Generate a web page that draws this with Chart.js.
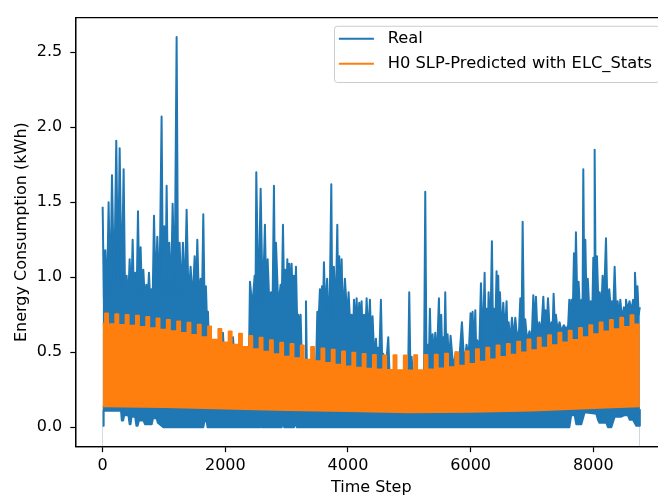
<!DOCTYPE html>
<html>
<head>
<meta charset="utf-8">
<script src="https://cdn.jsdelivr.net/npm/chart.js@4.4.0/dist/chart.umd.min.js"></script>
<style>
html, body { margin: 0; padding: 0; background: #fff; overflow: hidden; }
#wrap { width: 700px; height: 499px; }
</style>
</head>
<body>
<div id="wrap"><canvas id="chart" width="700" height="499"></canvas></div>
<script>
const xTicks = [0, 2000, 4000, 6000, 8000];
const yTicks = [0, 0.5, 1, 1.5, 2, 2.5];
const lastStep = 8759;

// Real: the upper edge of the trace, alternating between the dense band and the spikes
const realSteps = [
    0, 20, 43, 70, 97, 125, 152, 187, 222, 250, 277, 310, 342, 366, 391, 415, 440, 465, 489, 510,
    532, 554, 576, 598, 619, 641, 663, 688, 712, 734, 755, 775, 793, 815, 837, 864, 891, 926, 961, 983,
    1005, 1024, 1043, 1065, 1086, 1113, 1141, 1173, 1206, 1230, 1255, 1282, 1309, 1339, 1369, 1400, 1434, 1467, 1500, 1521,
    1543, 1570, 1597, 1619, 1641, 1662, 1684, 1700, 1717, 1740,
    1940, 1961, 1985, 2105, 2125, 2150, 2385,
    2402, 2440, 2478, 2492, 2505, 2540, 2576, 2610, 2646, 2668, 2690, 2720, 2745, 2770, 2793, 2810, 2826, 2864, 2902, 2920,
    2940, 2960, 2975, 2993, 3011, 3027, 3043, 3062, 3081, 3100, 3119, 3135, 3152, 3172, 3190, 3210, 3228, 3250,
    3300, 3315, 3330, 3480, 3500, 3520, 3543, 3560, 3576, 3592, 3608, 3630, 3660, 3695, 3728, 3745, 3770, 3800, 3826, 3842,
    3858, 3877, 3897, 3915, 3950, 3990, 4010, 4040, 4060, 4080, 4098, 4120, 4141, 4160, 4184, 4204, 4222, 4240, 4262, 4282,
    4304, 4330, 4358, 4380, 4401, 4430, 4456, 4475, 4489, 4510, 4537, 4560, 4575, 4620, 4657, 4680,
    4980, 4999, 5020, 5037, 5060, 5240, 5260, 5280, 5298, 5318, 5336, 5358, 5380, 5400, 5423, 5450, 5483, 5500, 5521, 5538,
    5554, 5570, 5586, 5605, 5624, 5648, 5673, 5715, 5760, 5810, 5858, 5895, 5934, 5965, 5999, 6015, 6032, 6055, 6076, 6092,
    6108, 6140, 6168, 6200, 6228, 6245, 6260, 6277, 6293, 6320, 6347, 6365, 6380, 6400, 6423, 6436, 6450, 6465, 6478, 6505,
    6532, 6560, 6586,
    6605, 6620, 6645, 6674, 6700, 6728, 6760, 6790, 6810, 6830, 6848, 6870, 6890, 6920, 6960, 6995, 7022, 7043, 7065, 7090,
    7120, 7150, 7185, 7205, 7220, 7240, 7261, 7290, 7320, 7336, 7353, 7375, 7390, 7420, 7450, 7480, 7520, 7560, 7590, 7609,
    7628, 7647, 7665, 7685, 7700, 7717, 7740, 7760, 7780, 7810, 7825, 7837, 7855, 7870, 7890, 7910, 7935, 7960, 7985, 8000,
    8012, 8022, 8040, 8060, 8085, 8105, 8130, 8152, 8172, 8207, 8230, 8260, 8290, 8305, 8325, 8348, 8372, 8397, 8420, 8440,
    8470, 8500, 8520, 8533, 8560, 8590, 8620, 8650, 8665, 8679, 8700, 8720, 8740, 8759
];
const realValues = [
    1.47, 0.86, 1.18, 0.85, 1.50, 0.86, 1.68, 0.88, 1.91, 0.95, 1.86, 0.90, 1.72, 0.85, 1.01, 0.82, 1.12, 0.84, 1.25, 0.85,
    1.03, 0.86, 1.44, 0.86, 1.20, 0.86, 1.05, 0.84, 0.95, 0.84, 1.03, 0.84, 0.92, 0.84, 1.41, 0.90, 1.27, 0.88, 2.07, 0.90,
    1.34, 0.90, 1.61, 0.88, 1.23, 0.87, 1.49, 0.88, 2.60, 0.88, 1.23, 0.86, 1.23, 0.86, 1.45, 0.85, 1.07, 0.84, 1.14, 0.85,
    1.25, 0.84, 0.99, 0.82, 1.42, 0.80, 0.94, 0.72, 0.77, 0.45,
    0.45, 0.63, 0.45, 0.45, 0.60, 0.45, 0.45,
    0.97, 0.80, 1.01, 0.82, 1.70, 0.80, 1.59, 0.80, 1.35, 0.82, 1.12, 0.80, 0.90, 0.80, 1.61, 0.85, 1.23, 0.80, 0.95, 0.82,
    1.35, 0.82, 1.05, 0.82, 1.12, 0.85, 1.09, 0.85, 1.09, 0.82, 1.01, 0.82, 1.07, 0.70, 0.75, 0.65, 0.75, 0.40,
    0.40, 0.84, 0.40, 0.40, 0.77, 0.70, 0.92, 0.75, 0.94, 0.75, 1.10, 0.75, 0.99, 0.60, 1.62, 0.72, 1.07, 0.75, 1.35, 0.78,
    1.14, 0.78, 1.12, 0.72, 0.99, 0.72, 0.90, 0.65, 0.75, 0.55, 0.85, 0.65, 0.86, 0.65, 0.83, 0.65, 0.84, 0.60, 0.75, 0.60,
    0.86, 0.60, 0.85, 0.55, 0.74, 0.45, 0.59, 0.45, 0.53, 0.45, 0.85, 0.40, 0.49, 0.40, 0.60, 0.33,
    0.33, 0.90, 0.33, 0.47, 0.33, 0.35, 1.57, 0.42, 0.55, 0.42, 0.79, 0.42, 0.62, 0.45, 0.63, 0.45, 0.86, 0.50, 0.75, 0.45,
    0.60, 0.45, 0.90, 0.45, 0.62, 0.42, 0.61, 0.40, 0.50, 0.42, 0.70, 0.42, 0.55, 0.45, 0.76, 0.50, 0.77, 0.50, 0.78, 0.48,
    0.58, 0.50, 0.96, 0.55, 1.03, 0.58, 0.79, 0.58, 0.90, 0.60, 1.24, 0.62, 0.79, 0.62, 1.04, 0.70, 1.01, 0.65, 0.90, 0.62,
    0.83, 0.62, 0.84,
    0.56, 0.70, 0.56, 0.73, 0.58, 0.73, 0.58, 0.65, 0.86, 0.62, 1.37, 0.62, 0.72, 0.58, 0.64, 0.58, 0.88, 0.66, 0.87, 0.62,
    0.70, 0.62, 0.87, 0.68, 0.78, 0.66, 0.86, 0.64, 0.70, 0.64, 0.89, 0.66, 0.75, 0.64, 0.70, 0.64, 0.68, 0.65, 0.68, 0.85,
    0.75, 0.85, 0.75, 1.16, 0.82, 1.30, 0.80, 0.97, 0.80, 0.85, 0.78, 1.72, 0.82, 1.25, 0.82, 0.99, 0.78, 0.84, 0.78, 1.13,
    0.85, 1.85, 0.85, 1.14, 0.80, 0.90, 0.76, 1.01, 0.80, 1.26, 0.80, 0.92, 0.76, 0.84, 0.76, 1.07, 0.76, 0.84, 0.72, 0.85,
    0.72, 0.80, 0.74, 0.85, 0.78, 0.84, 0.78, 0.85, 0.80, 1.03, 0.86, 0.94, 0.75, 0.80
];

// Real: the lower edge of the trace
const realLowSteps = [
    0, 10, 16, 300, 312, 335, 350, 420, 440, 455, 470, 530, 550, 570, 590, 665, 690, 800, 820, 880,
    900, 990, 1640, 1660, 1695, 1710, 2550, 2565, 2590, 2920, 2935, 2960, 3120, 3140, 3165, 7610, 7640, 7696, 7723, 7805,
    7859, 8049, 8076, 8100, 8212, 8239, 8294, 8348, 8457, 8511, 8565, 8593, 8647, 8701, 8756, 8759
];
const realLowValues = [
    0.01, 0.01, 0.11, 0.11, 0.045, 0.045, 0.08, 0.08, 0.02, 0.02, 0.07, 0.07, 0.01, 0.01, 0.045, 0.045, 0.02, 0.02, 0.06, 0.06,
    0.03, 0.0, 0.0, 0.04, 0.04, 0.0, 0.0, 0.04, 0.0, 0.0, 0.04, 0.0, 0.0, 0.04, 0.0, 0.0, 0.08, 0.08, 0.02, 0.02,
    0.10, 0.09, 0.05, 0.03, 0.03, 0.0, 0.0, 0.07, 0.07, 0.08, 0.08, 0.05, 0.05, 0.01, 0.01, 0.12
];

// H0 SLP prediction: daily peak on weekdays (53 stretches) and on weekends (52 weekends)
const weekdayPeak = [
    0.690, 0.686, 0.681, 0.676, 0.668, 0.660, 0.650, 0.640, 0.628, 0.615,
    0.600, 0.583, 0.565, 0.550, 0.535, 0.520, 0.503, 0.486, 0.470, 0.460,
    0.450, 0.440, 0.428, 0.416, 0.405, 0.397, 0.390, 0.385, 0.382, 0.379,
    0.378, 0.380, 0.385, 0.391, 0.400, 0.410, 0.422, 0.436, 0.452, 0.468,
    0.483, 0.498, 0.513, 0.530, 0.547, 0.564, 0.582, 0.600, 0.619, 0.637,
    0.653, 0.668, 0.685
];
const weekendPeak = [
    0.758, 0.753, 0.748, 0.742, 0.734, 0.725, 0.715, 0.704, 0.696, 0.682,
    0.671, 0.654, 0.637, 0.622, 0.607, 0.596, 0.579, 0.563, 0.555, 0.545,
    0.535, 0.524, 0.517, 0.505, 0.496, 0.488, 0.482, 0.478, 0.480, 0.478,
    0.479, 0.482, 0.483, 0.490, 0.500, 0.506, 0.519, 0.529, 0.545, 0.555,
    0.570, 0.585, 0.596, 0.613, 0.630, 0.643, 0.661, 0.679, 0.698, 0.715,
    0.730, 0.746
];
const firstWeekend = 39;
const hoursPerWeek = 168;
const weekendHours = 48;

// H0 SLP prediction: night-time minimum
const predLowSteps = [0, 1000, 2000, 3000, 4000, 5000, 6000, 7000, 8000, 8759];
const predLowValues = [0.14, 0.135, 0.125, 0.115, 0.108, 0.100, 0.103, 0.112, 0.128, 0.14];

const blue = "#1f77b4";
const orange = "#ff7f0e";
const fontFamily = "'DejaVu Sans', sans-serif";

const toPoints = (xs, ys) => xs.map((x, i) => ({ x: x, y: ys[i] }));

const predTop = [{ x: 0, y: weekdayPeak[0] }];
weekendPeak.forEach((v, k) => {
    const s = firstWeekend + k * hoursPerWeek;
    predTop.push({ x: s, y: weekdayPeak[k] });
    predTop.push({ x: s, y: v });
    predTop.push({ x: s + weekendHours, y: v });
    predTop.push({ x: s + weekendHours, y: weekdayPeak[k + 1] });
});
predTop.push({ x: lastStep, y: weekdayPeak[weekdayPeak.length - 1] });

const allY = realValues.concat(realLowValues);
const yLo = Math.min(...allY);
const yHi = Math.max(...allY);
const yPad = (yHi - yLo) * 0.05;
const xPad = lastStep * 0.05;
const yAxisMin = yLo - yPad;

// every edge is filled down to the bottom of the axis; later layers cover earlier ones
const lineStyle = { pointRadius: 0, borderWidth: 2, tension: 0, borderJoinStyle: "round", fill: { value: yAxisMin } };

const legendItems = [
    { text: "Real", color: blue },
    { text: "H0 SLP-Predicted with ELC_Stats", color: orange }
];

const framePlugin = {
    id: "frame",
    afterDraw(chart) {
        const ctx = chart.ctx;
        const a = chart.chartArea;
        ctx.save();
        // spines (the fills reach the bottom edge, so redraw them on top)
        ctx.strokeStyle = "#000";
        ctx.lineWidth = 1.2;
        ctx.beginPath();
        ctx.moveTo(a.right, a.top);
        ctx.lineTo(a.left, a.top);
        ctx.lineTo(a.left, a.bottom);
        ctx.lineTo(a.right, a.bottom);
        ctx.stroke();

        // legend box, upper right
        const fs = 16.3;
        ctx.font = fs + "px " + fontFamily;
        const textW = Math.max(...legendItems.map(it => ctx.measureText(it.text).width));
        const w = 3.3 * fs + textW + 0.4 * fs;
        const h = 3.45 * fs;
        const right = a.right - 0.5 * fs;
        const top = a.top + 0.5 * fs;
        const left = right - w;
        ctx.beginPath();
        ctx.roundRect(left + 0.5, top + 0.5, w, h, 3);
        ctx.fillStyle = "rgba(255,255,255,0.8)";
        ctx.fill();
        ctx.strokeStyle = "#cccccc";
        ctx.lineWidth = 1;
        ctx.stroke();

        ctx.textBaseline = "middle";
        ctx.textAlign = "left";
        legendItems.forEach((it, i) => {
            const cy = top + 0.8 * fs + i * 1.53 * fs;
            ctx.strokeStyle = it.color;
            ctx.lineWidth = 2;
            ctx.beginPath();
            ctx.moveTo(left + 0.3 * fs, cy);
            ctx.lineTo(left + 2.45 * fs, cy);
            ctx.stroke();
            ctx.fillStyle = "#000";
            ctx.fillText(it.text, left + 3.3 * fs, cy);
        });
        ctx.restore();
    }
};

Chart.defaults.font.family = fontFamily;
Chart.defaults.font.size = 16;
Chart.defaults.color = "#000";

// drawn back to front: real top, prediction top, band below the prediction, white under the real minimum
new Chart(document.getElementById("chart"), {
    type: "line",
    data: {
        datasets: [
            { label: "Real", data: toPoints(realSteps, realValues), borderColor: blue, backgroundColor: blue, order: 3, ...lineStyle },
            { label: "H0 SLP-Predicted with ELC_Stats", data: predTop, borderColor: orange, backgroundColor: orange, order: 2, ...lineStyle },
            { label: "predLow", data: toPoints(predLowSteps, predLowValues), borderColor: orange, backgroundColor: blue, order: 1, ...lineStyle },
            { label: "realLow", data: toPoints(realLowSteps, realLowValues), borderColor: blue, backgroundColor: "#ffffff", order: 0, ...lineStyle }
        ]
    },
    options: {
        responsive: false,
        animation: false,
        devicePixelRatio: 1,
        layout: { padding: { left: 0, top: 6, right: 33.3, bottom: 0 } },
        plugins: { legend: { display: false }, tooltip: { enabled: false } },
        scales: {
            x: {
                type: "linear",
                min: -xPad,
                max: lastStep + xPad,
                afterBuildTicks: s => { s.ticks = xTicks.map(v => ({ value: v })); },
                afterFit: s => { s.height = 52.3; },
                ticks: { callback: v => String(v), maxRotation: 0, autoSkip: false, padding: 4, color: "#000" },
                grid: { drawOnChartArea: false, tickLength: 5.5, tickWidth: 1.2, tickColor: "#000" },
                border: { color: "#000", width: 1.2 },
                title: { display: true, text: "Time Step", color: "#000", padding: { top: 0, bottom: 2 } }
            },
            y: {
                type: "linear",
                min: yAxisMin,
                max: yHi + yPad,
                afterBuildTicks: s => { s.ticks = yTicks.map(v => ({ value: v })); },
                afterFit: s => { s.width = 75.8; },
                ticks: { callback: v => v.toFixed(1), padding: 8, color: "#000" },
                grid: { drawOnChartArea: false, tickLength: 5.5, tickWidth: 1.2, tickColor: "#000" },
                border: { color: "#000", width: 1.2 },
                title: { display: true, text: "Energy Consumption (kWh)", color: "#000", padding: { top: 12, bottom: 0 } }
            }
        }
    },
    plugins: [framePlugin]
});
</script>
</body>
</html>
